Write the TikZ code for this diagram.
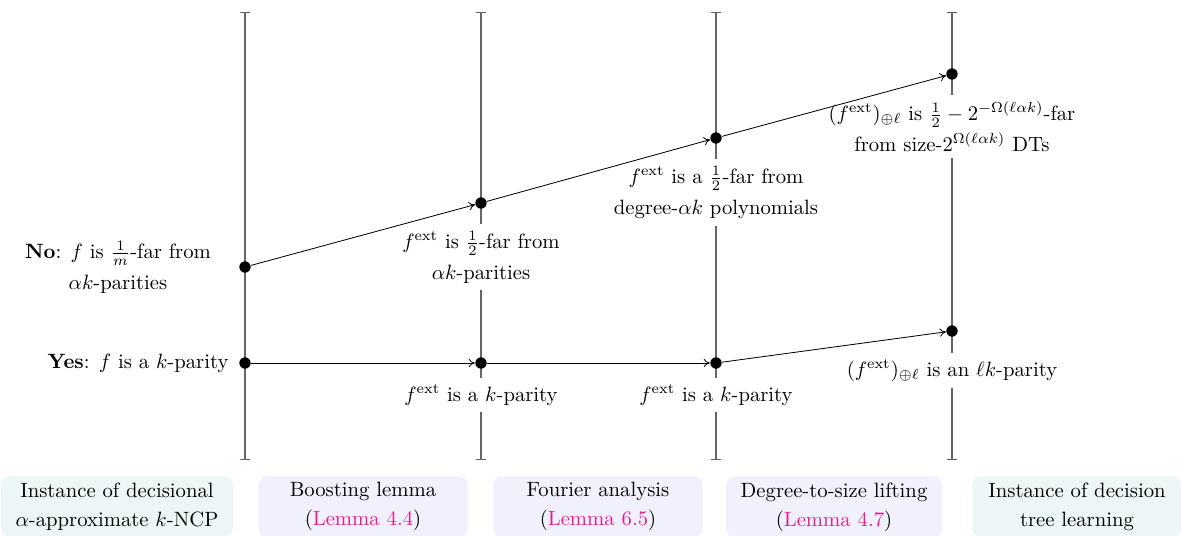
\documentclass[tikz,border=0pt]{standalone}
\usepackage{amsmath,amssymb}
\usepackage{xcolor}
\usetikzlibrary{positioning,arrows.meta}

\definecolor{lemmapink}{RGB}{232,28,140}
\definecolor{toolfill}{RGB}{241,241,253}
\definecolor{taskfill}{RGB}{236,246,246}

\tikzset{
  dot/.style={circle, fill=black, inner sep=0pt, minimum size=5.5pt},
  claim/.style={fill=white, align=center, font=\fontsize{10}{15}\selectfont},
  timeline/.style={draw=black!60, line width=0.6pt, {Bar[width=5pt]}-{Bar[width=5pt]}},
  stagebox/.style={rounded corners=4pt, align=center, inner xsep=7pt, inner ysep=3pt,
    minimum width=3.55cm, anchor=north, font=\fontsize{10}{14}\selectfont},
  arr/.style={-{To[length=3pt,width=4pt]}},
}

\begin{document}
\begin{tikzpicture}[x=0.01698cm, y=-0.01698cm]
\useasboundingbox (0,0) rectangle (1181,535);
\clip (0,0) rectangle (1181,535);

% time lines
\foreach \x [count=\i] in {245,481,716,952} {
    \coordinate (top\i) at (\x,12);
    \coordinate (bot\i) at (\x,460);
    \draw[timeline] (top\i) -- (bot\i);
}

% No instances
\node[dot] (no1) at (245,267) {};
\node[dot] (no2) at (481,203) {};
\node[dot] (no3) at (716,138) {};
\node[dot] (no4) at (952,74) {};

% Yes instances
\node[dot] (yes1) at (245,363) {};
\node[dot] (yes2) at (481,363) {};
\node[dot] (yes3) at (716,363) {};
\node[dot] (yes4) at (952,331) {};

\node[claim, left=10pt of no1] (noclaim1) {\textbf{No}: $f$ is $\frac{1}{m}$-far from\\ $\alpha k$-parities};
\node[claim, below=7pt of no2] (noclaim2) {$f^{\mathrm{ext}}$ is $\frac{1}{2}$-far from\\ $\alpha k$-parities};
\node[claim, below=7pt of no3] (noclaim3) {$f^{\mathrm{ext}}$ is a $\frac{1}{2}$-far from\\ degree-$\alpha k$ polynomials};
\node[claim, below=7pt of no4] (noclaim4) {$(f^{\mathrm{ext}})_{\oplus\ell}$ is $\frac{1}{2} - 2^{-\Omega(\ell\alpha k)}$-far\\ from size-$2^{\Omega(\ell\alpha k)}$ DTs};

\node[claim, left=1.5pt of yes1] (yesclaim1) {\textbf{Yes}: $f$ is a $k$-parity};
\node[claim, below=4pt of yes2] (yesclaim2) {$f^{\mathrm{ext}}$ is a $k$-parity};
\node[claim, below=4pt of yes3] (yesclaim3) {$f^{\mathrm{ext}}$ is a $k$-parity};
\node[claim, below=7.5pt of yes4] (yesclaim4) {$(f^{\mathrm{ext}})_{\oplus\ell}$ is an $\ell k$-parity};

% reductions
\foreach \a/\b in {1/2,2/3,3/4} {
    \draw[arr] (no\a) -- (no\b);
    \draw[arr] (yes\a) -- (yes\b);
}

% stages
\node[stagebox, fill=taskfill] (stage1) at (117,476) {Instance of decisional\\ $\alpha$-approximate $k$-NCP};
\node[stagebox, fill=toolfill] (stage2) at (363,476) {Boosting lemma\\ (\textcolor{lemmapink}{Lemma 4.4})};
\node[stagebox, fill=toolfill] (stage3) at (598,476) {Fourier analysis\\ (\textcolor{lemmapink}{Lemma 6.5})};
\node[stagebox, fill=toolfill] (stage4) at (834,476) {Degree-to-size lifting\\ (\textcolor{lemmapink}{Lemma 4.7})};
\node[stagebox, fill=taskfill] (stage5) at (1077,476) {Instance of decision\\ tree learning};
\end{tikzpicture}
\end{document}
